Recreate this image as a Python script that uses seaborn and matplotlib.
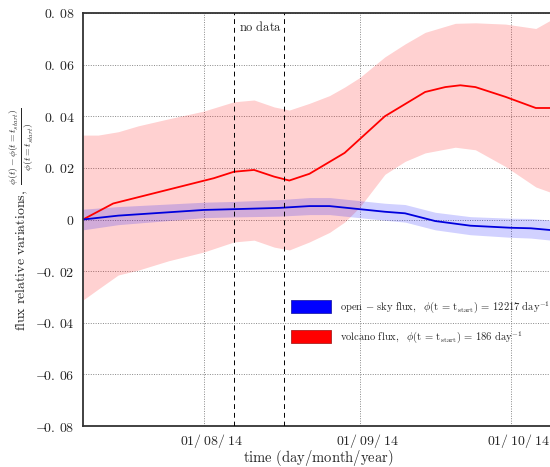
import matplotlib
matplotlib.use("Agg")
import matplotlib.pyplot as plt
from matplotlib.patches import Patch
from matplotlib.transforms import ScaledTranslation
import numpy as np
import pandas as pd
import seaborn as sns

# red (volcano) mean curve
red_dates = ["2014-07-08", "2014-07-14", "2014-08-03", "2014-08-07", "2014-08-11",
             "2014-08-15", "2014-08-18", "2014-08-22", "2014-08-29", "2014-09-06",
             "2014-09-14", "2014-09-18", "2014-09-21", "2014-09-24", "2014-09-30",
             "2014-10-06", "2014-10-12"]
red_mean = [0.0, 0.0062, 0.016, 0.0185, 0.0192,
            0.0166, 0.0151, 0.0177, 0.0258, 0.040,
            0.0494, 0.0513, 0.052, 0.0513, 0.0475,
            0.0432, 0.0432]

# red uncertainty band
red_band_dates = ["2014-07-08", "2014-07-11", "2014-07-15", "2014-07-19", "2014-07-25",
                  "2014-08-01", "2014-08-07", "2014-08-11", "2014-08-15", "2014-08-18",
                  "2014-08-22", "2014-08-26", "2014-08-29", "2014-09-01", "2014-09-06",
                  "2014-09-10", "2014-09-14", "2014-09-20", "2014-09-24", "2014-09-30",
                  "2014-10-06", "2014-10-09", "2014-10-12"]
red_upper = [0.0327, 0.0327, 0.034, 0.0363, 0.039,
             0.042, 0.0456, 0.0463, 0.0436, 0.0424,
             0.045, 0.048, 0.0513, 0.055, 0.063,
             0.068, 0.0725, 0.076, 0.0762, 0.0757,
             0.074, 0.0773, 0.079]
red_lower = [-0.0312, -0.027, -0.0215, -0.0196, -0.016,
             -0.0126, -0.0087, -0.008, -0.0107, -0.0118,
             -0.0087, -0.005, -0.001, 0.0048, 0.0175,
             0.0225, 0.0258, 0.028, 0.027, 0.0205,
             0.0126, 0.0105, 0.009]

# blue (open sky) mean curve and half width of its band
blue_dates = ["2014-07-08", "2014-07-15", "2014-08-01", "2014-08-07", "2014-08-16",
              "2014-08-22", "2014-08-26", "2014-09-01", "2014-09-06", "2014-09-10",
              "2014-09-13", "2014-09-16", "2014-09-23", "2014-10-01", "2014-10-05",
              "2014-10-09", "2014-10-12"]
blue_mean = [0.0, 0.0015, 0.0037, 0.004, 0.0045,
             0.0052, 0.0052, 0.004, 0.003, 0.0024,
             0.0009, -0.0006, -0.0024, -0.0032, -0.0034,
             -0.0041, -0.0045]
blue_err = [0.004, 0.0035, 0.003, 0.003, 0.0032,
            0.0033, 0.0033, 0.0033, 0.0033, 0.0034,
            0.0034, 0.0034, 0.0035, 0.0037, 0.0038,
            0.0039, 0.004]

no_data = ["2014-08-07", "2014-08-17"]
month_ticks = ["2014-08-01", "2014-09-01", "2014-10-01"]
month_labels = [r"$01/\:08/\:14$", r"$01/\:09/\:14$", r"$01/\:10/\:14$"]
y_ticks = [-0.08, -0.06, -0.04, -0.02, 0, 0.02, 0.04, 0.06, 0.08]
y_labels = [r"$-\!0.\,08$", r"$-\!0.\,06$", r"$-\!0.\,04$", r"$-\!0.\,02$", r"$0$",
            r"$0.\,02$", r"$0.\,04$", r"$0.\,06$", r"$0.\,08$"]

sns.set_style("white")
plt.rcParams["mathtext.fontset"] = "cm"

red_df = pd.DataFrame({"date": pd.to_datetime(red_dates), "value": red_mean})
blue_df = pd.DataFrame({"date": pd.to_datetime(blue_dates), "value": blue_mean})
rb = pd.to_datetime(red_band_dates)
bd = pd.to_datetime(blue_dates)
b_mean = np.array(blue_mean)
b_err = np.array(blue_err)

fig = plt.figure(figsize=(5.5, 4.67), dpi=100)
# the axes runs a little past the right edge of the picture
ax = fig.add_axes([83 / 550, 41 / 467, 470 / 550, 413 / 467])

ax.fill_between(rb, red_lower, red_upper, color="red", alpha=0.18, lw=0)
ax.fill_between(bd, b_mean - b_err, b_mean + b_err, color="blue", alpha=0.18, lw=0)
sns.lineplot(data=red_df, x="date", y="value", ax=ax, color="red", lw=1.3)
sns.lineplot(data=blue_df, x="date", y="value", ax=ax, color="#0000dd", lw=1.3)

for d in no_data:
    ax.axvline(pd.Timestamp(d), color="black", ls=(0, (5, 4)), lw=0.7, zorder=3)
ax.text(pd.Timestamp("2014-08-08"), 0.073, r"$\mathrm{no\ data}$", fontsize=9)

ax.set_xlim(pd.Timestamp("2014-07-08"), pd.Timestamp("2014-10-09 10:00"))
ax.set_ylim(-0.08, 0.08)
ax.set_xticks(pd.to_datetime(month_ticks))
ax.set_xticklabels(month_labels, fontsize=10)
ax.set_yticks(y_ticks)
ax.set_yticklabels(y_labels, fontsize=10)
ax.tick_params(direction="in", length=4, width=0.8, color="#333333")
ax.tick_params(axis="x", pad=4)
ax.tick_params(axis="y", pad=6)
ax.grid(True, color="#888888", ls=(0, (1, 1.5)), lw=0.7)

# date labels sit a bit right of their ticks
shift = ScaledTranslation(8 / 100, 0, fig.dpi_scale_trans)
for lab in ax.get_xticklabels():
    lab.set_transform(lab.get_transform() + shift)

for s in ax.spines.values():
    s.set_color("#333333")
    s.set_linewidth(1.3)

ax.set_xlabel(r"$\mathrm{time\ (day/month/year)}$", fontsize=10.5, labelpad=-1)
ax.set_ylabel(r"$\mathrm{flux\ relative\ variations,}\ \frac{\phi(t)-\phi(t=t_{start})}{\phi(t=t_{start})}$",
              fontsize=10)
ax.yaxis.set_label_coords(-0.102, 0.5)

handles = [Patch(facecolor="blue", edgecolor="#2222aa", lw=0.6),
           Patch(facecolor="red", edgecolor="#aa2222", lw=0.6)]
labels = [r"$\mathrm{open}\,-\,\mathrm{sky\ flux,}\ \ \phi(\mathrm{t}\,=\,\mathrm{t}_{\mathrm{start}})\,=\,12217\ \mathrm{day}^{-1}$",
          r"$\mathrm{volcano\ flux,}\ \ \phi(\mathrm{t}\,=\,\mathrm{t}_{\mathrm{start}})\,=\,186\ \mathrm{day}^{-1}$"]
fig.legend(handles, labels, loc="upper left", bbox_to_anchor=(291 / 550, 1 - 299 / 467),
           frameon=False, fontsize=7.6, handlelength=3.8, handleheight=1.55,
           handletextpad=0.8, labelspacing=1.35, borderpad=0, borderaxespad=0)

fig.savefig("out.png", dpi=100)
